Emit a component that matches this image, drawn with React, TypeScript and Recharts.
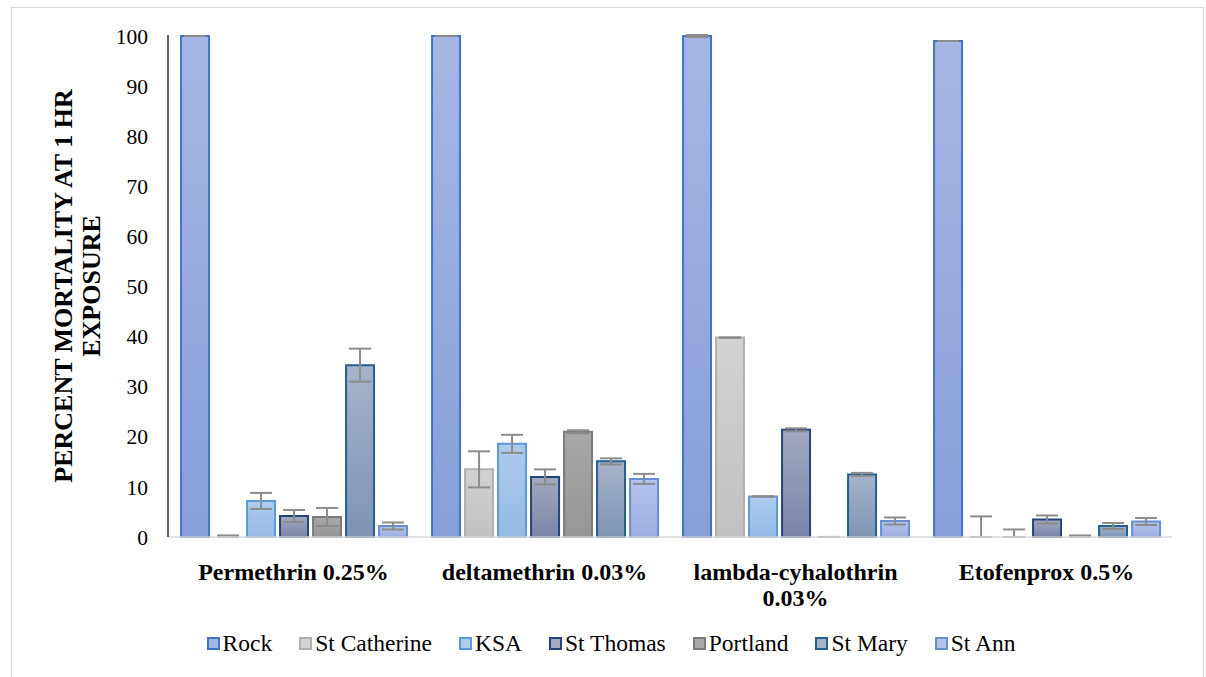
import {
  BarChart,
  Bar,
  XAxis,
  YAxis,
  ErrorBar,
  Legend,
  Label,
  Cell,
} from "recharts";

const categories = [
  "Permethrin 0.25%",
  "deltamethrin 0.03%",
  "lambda-cyhalothrin 0.03%",
  "Etofenprox 0.5%",
];

const rock = [100, 100, 100, 99];
const rockErr = [0, 0, 0.2, 0];
const stCatherine = [0, 13.5, 39.8, 0];
const stCatherineErr = [0.3, 3.6, 0, 4.1];
const ksa = [7.2, 18.6, 8.1, 0];
const ksaErr = [1.6, 1.8, 0, 1.5];
const stThomas = [4.2, 12.0, 21.4, 3.5];
const stThomasErr = [1.2, 1.5, 0.3, 0.8];
const portland = [4.0, 21.0, 0, 0];
const portlandErr = [1.8, 0.3, 0, 0.3];
const stMary = [34.3, 15.1, 12.5, 2.2];
const stMaryErr = [3.3, 0.6, 0.3, 0.6];
const stAnn = [2.2, 11.6, 3.2, 3.1];
const stAnnErr = [0.7, 1.0, 0.7, 0.7];

const yTicks = [0, 10, 20, 30, 40, 50, 60, 70, 80, 90, 100];

const series = [
  { key: "rock", name: "Rock", values: rock, errs: rockErr, top: "#a6b6e4", bottom: "#889fda", stroke: "#4472c4" },
  { key: "stCatherine", name: "St Catherine", values: stCatherine, errs: stCatherineErr, top: "#d2d2d2", bottom: "#c2c2c2", stroke: "#b0b0b0" },
  { key: "ksa", name: "KSA", values: ksa, errs: ksaErr, top: "#aecbed", bottom: "#95bae6", stroke: "#5b9bd5" },
  { key: "stThomas", name: "St Thomas", values: stThomas, errs: stThomasErr, top: "#a3a9c0", bottom: "#7a84a7", stroke: "#264478" },
  { key: "portland", name: "Portland", values: portland, errs: portlandErr, top: "#a8a8a8", bottom: "#969696", stroke: "#7b7b7b" },
  { key: "stMary", name: "St Mary", values: stMary, errs: stMaryErr, top: "#a6b3c9", bottom: "#7f94b5", stroke: "#255e91" },
  { key: "stAnn", name: "St Ann", values: stAnn, errs: stAnnErr, top: "#b4c3eb", bottom: "#9caee2", stroke: "#698ed0" },
];

// recharts drops the error bar of a zero-height bar, so zeros get a hair of height
const EPS = 0.01;

const data = categories.map((cat, i) => {
  const row: Record<string, unknown> = { category: cat };
  series.forEach((s) => {
    const v = s.values[i];
    row[s.key] = v === 0 ? EPS : v;
    // error bars are clipped at the axis floor
    row[s.key + "Err"] = [Math.min(s.errs[i], v), s.errs[i]];
  });
  return row;
});

const FONT = '"Liberation Serif", "Times New Roman", serif';

function CategoryTick({ x, y, payload }: any) {
  const text: string = payload.value;
  const cut = text.lastIndexOf(" ");
  const lines = text.length > 20 ? [text.slice(0, cut), text.slice(cut + 1)] : [text];
  return (
    <text x={x} y={y} textAnchor="middle" fontFamily={FONT} fontWeight="bold" fontSize={24} fill="#000">
      {lines.map((l, i) => (
        <tspan key={i} x={x} dy={i === 0 ? 35 : 26}>
          {l}
        </tspan>
      ))}
    </text>
  );
}

function YTitle({ viewBox }: any) {
  const cy = viewBox.y + viewBox.height / 2;
  return (
    <g fontFamily={FONT} fontWeight="bold" fontSize={26} fill="#000">
      <text x={63} y={cy} textAnchor="middle" dominantBaseline="central" transform={`rotate(-90 63 ${cy})`}>
        PERCENT MORTALITY AT 1 HR
      </text>
      <text x={91} y={cy} textAnchor="middle" dominantBaseline="central" transform={`rotate(-90 91 ${cy})`}>
        EXPOSURE
      </text>
    </g>
  );
}

function LegendContent() {
  return (
    <div
      style={{
        display: "flex",
        justifyContent: "center",
        gap: 27,
        paddingLeft: 50,
        fontFamily: FONT,
        fontSize: 23.5,
        color: "#000",
        lineHeight: "27px",
      }}
    >
      {series.map((s) => (
        <div key={s.key} style={{ display: "flex", alignItems: "center" }}>
          <span
            style={{
              display: "inline-block",
              width: 9,
              height: 9,
              background: s.top,
              border: `2px solid ${s.stroke}`,
              marginRight: 3,
            }}
          />
          {s.name}
        </div>
      ))}
    </div>
  );
}

export default function App() {
  return (
    <div style={{ position: "absolute", left: 0, top: 0, width: 1206, height: 677, background: "#fff", overflow: "hidden" }}>
      <div
        style={{
          position: "absolute",
          left: 11,
          top: 7,
          width: 1191,
          height: 690,
          border: "1.5px solid #d9d9d9",
        }}
      />
      <div style={{ position: "absolute", left: 0, top: 0 }}>
        <BarChart
          width={1206}
          height={677}
          data={data}
          margin={{ top: 35, right: 34, bottom: 43, left: 0 }}
          barCategoryGap="5.2%"
          barGap={5}
        >
          <defs>
            {series.map((s) => (
              <linearGradient key={s.key} id={"grad-" + s.key} x1="0" y1="0" x2="0" y2="1">
                <stop offset="0%" stopColor={s.top} />
                <stop offset="100%" stopColor={s.bottom} />
              </linearGradient>
            ))}
          </defs>
          <XAxis
            dataKey="category"
            height={70}
            tick={<CategoryTick />}
            tickLine={false}
            axisLine={{ stroke: "#d9d9d9", strokeWidth: 1.5 }}
            interval={0}
          />
          <YAxis
            width={168}
            domain={[0, 100]}
            ticks={yTicks}
            tickLine={false}
            tickSize={0}
            tickMargin={20}
            axisLine={{ stroke: "#333", strokeWidth: 1.5 }}
            tick={{ fontFamily: FONT, fontSize: 21.5, fill: "#000" }}
          >
            <Label content={<YTitle />} />
          </YAxis>
          <Legend verticalAlign="bottom" content={<LegendContent />} wrapperStyle={{ bottom: 20 }} />
          {series.map((s) => (
            <Bar
              key={s.key}
              dataKey={s.key}
              name={s.name}
              fill={`url(#grad-${s.key})`}
              stroke={s.stroke}
              strokeWidth={2}
              isAnimationActive={false}
            >
              {s.values.map((v, i) => (
                <Cell key={i} stroke={v === 0 ? "none" : s.stroke} />
              ))}
              <ErrorBar dataKey={s.key + "Err"} width={11} stroke="#8c8c8c" strokeWidth={2} />
            </Bar>
          ))}
        </BarChart>
      </div>
    </div>
  );
}
